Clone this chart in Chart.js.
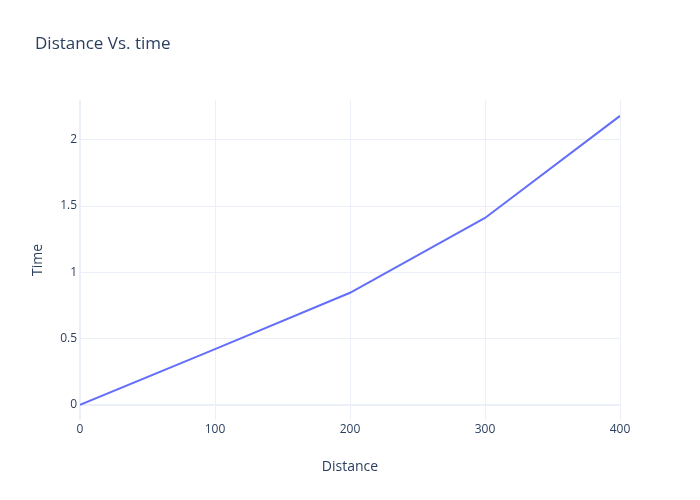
<!DOCTYPE html>
<html>
<head>
  <meta charset="UTF-8" />
  <script src="https://cdn.jsdelivr.net/npm/chart.js"></script>
  <style>
    body { margin: 0; background: #fff; }
    #wrap { width: 700px; height: 500px; }
  </style>
</head>
<body>
  <div id="wrap"><canvas id="grafico"></canvas></div>
  <script>
    // dados
    const distancia = [0, 100, 200, 300, 400]
    const tempo = [0, 0.42, 0.845, 1.41, 2.18]
    const xTicks = [0, 100, 200, 300, 400]
    const yTicks = [0, 0.5, 1, 1.5, 2]

    const corTexto = '#2a3f5f'
    const corGrade = '#ebf0f8'
    const fonte = '"Open Sans", sans-serif'

    // titulo e nomes dos eixos, no estilo plotly
    const textos = {
      id: 'textos',
      afterDraw(chart) {
        const ctx = chart.ctx
        const area = chart.chartArea
        ctx.save()
        ctx.fillStyle = corTexto
        ctx.font = '17px ' + fonte
        ctx.textBaseline = 'middle'
        ctx.textAlign = 'left'
        ctx.fillText('Distance Vs. time', 35, 44)
        ctx.font = '14px ' + fonte
        ctx.textAlign = 'center'
        ctx.fillText('Distance', (area.left + area.right) / 2, 467)
        ctx.translate(38, (area.top + area.bottom) / 2)
        ctx.rotate(-Math.PI / 2)
        ctx.fillText('Time', 0, 0)
        ctx.restore()
      }
    }

    new Chart(document.getElementById('grafico'), {
      type: 'line',
      data: {
        datasets: [{
          data: distancia.map((d, i) => ({ x: d, y: tempo[i] })),
          borderColor: '#636efa',
          borderWidth: 2,
          pointRadius: 0,
          tension: 0,
          fill: false
        }]
      },
      options: {
        responsive: true,
        maintainAspectRatio: false,
        animation: false,
        layout: { padding: { left: 0, right: 80, top: 100, bottom: 0 } },
        plugins: { legend: { display: false }, title: { display: false }, tooltip: { enabled: false } },
        scales: {
          x: {
            type: 'linear',
            min: 0,
            max: 400,
            afterFit: s => { s.height = 80 },
            afterBuildTicks: s => { s.ticks = xTicks.map(v => ({ value: v })) },
            grid: {
              color: corGrade,
              lineWidth: c => c.tick && c.tick.value === 0 ? 2 : 1,
              drawTicks: false
            },
            border: { display: false },
            ticks: { color: corTexto, font: { family: fonte, size: 12 }, padding: 2, maxRotation: 0, callback: v => String(v) }
          },
          y: {
            type: 'linear',
            min: -0.115,
            max: 2.3,
            afterFit: s => { s.width = 80 },
            afterBuildTicks: s => { s.ticks = yTicks.map(v => ({ value: v })) },
            grid: {
              color: corGrade,
              lineWidth: c => c.tick && c.tick.value === 0 ? 2 : 1,
              drawTicks: false
            },
            border: { display: false },
            ticks: { color: corTexto, font: { family: fonte, size: 12 }, padding: 3, callback: v => String(v) }
          }
        }
      },
      plugins: [textos]
    })
  </script>
</body>
</html>
